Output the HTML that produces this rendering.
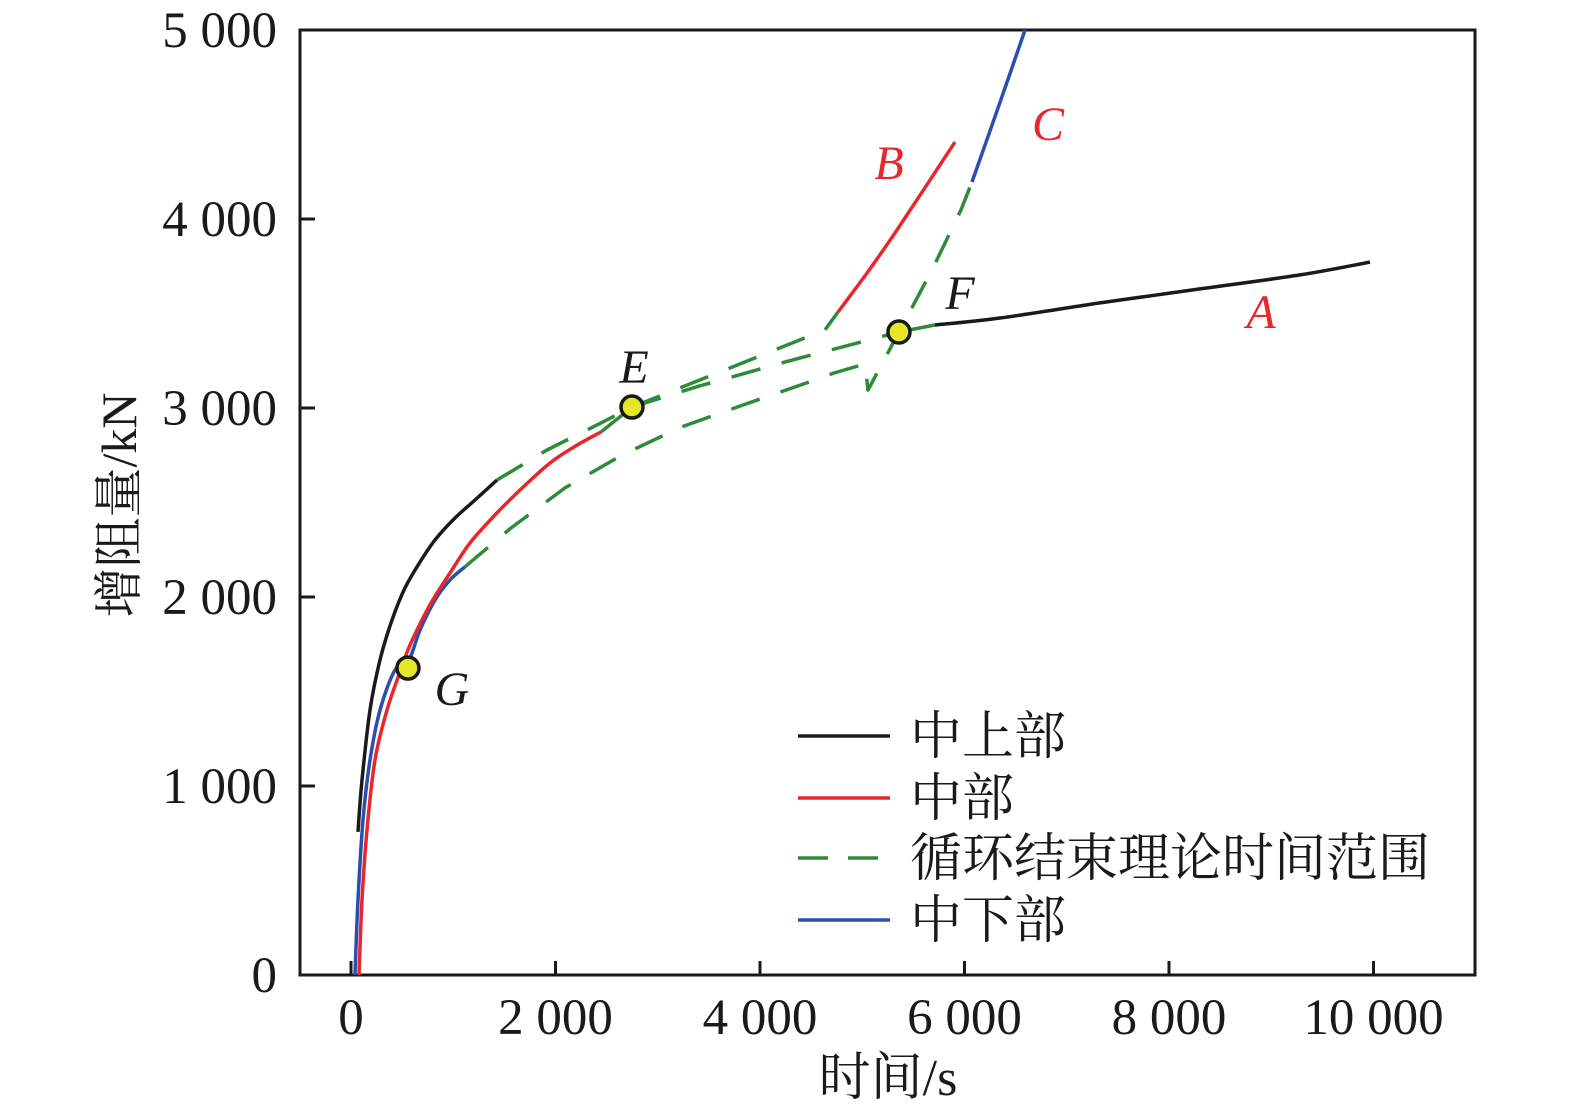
<!DOCTYPE html>
<html><head><meta charset="utf-8"><style>
body{margin:0;background:#fff}
svg{display:block}
text{font-family:"Liberation Serif","Noto Serif CJK SC",serif}
</style></head><body>
<svg id="chart" width="1575" height="1117" viewBox="0 0 1575 1117" xmlns="http://www.w3.org/2000/svg"></svg>
<script>
const xTicks=[0,2000,4000,6000,8000,10000];
const xTickLabels=["0","2 000","4 000","6 000","8 000","10 000"];
const yTicks=[0,1000,2000,3000,4000,5000];
const yTickLabels=["0","1 000","2 000","3 000","4 000","5 000"];
// series: [time, value]
const upperEarly=[[68,757],[108,1032],[186,1402],[284,1667],[401,1878],[528,2048],[675,2185],[822,2302],[1017,2418],[1213,2513],[1428,2619]];
const upperLate=[[5711,3439],[6347,3476],[7325,3556],[8303,3630],[9281,3704],[9966,3772]];
const middleEarly=[[78,0],[108,397],[156,767],[235,1138],[352,1402],[479,1603],[577,1746],[772,1958],[968,2127],[1164,2286],[1408,2434],[1653,2566],[1946,2709],[2200,2800],[2445,2873]];
const middleB=[[4763,3508],[5046,3714],[5340,3942],[5907,4407]];
const lowerEarly=[[39,0],[68,397],[117,820],[186,1138],[284,1402],[430,1614],[557,1654],[675,1825],[822,1984],[968,2090],[1115,2160]];
const lowerC=[[6073,4196],[6328,4587],[6592,5000]];
const dashUpperLeft=[[1428,2619],[1917,2778],[2445,2921],[2748,3005]];
const dashRedToE=[[2445,2873],[2748,3005]];
const dashUpper=[[2748,3005],[4636,3413],[4763,3508]];
const dashMiddle=[[2748,3005],[3404,3116],[4284,3249],[5359,3402]];
const dashLower=[[1115,2160],[1565,2365],[2093,2577],[2650,2751],[3227,2899],[3834,3016],[4450,3132],[4724,3185],[5027,3233],[5056,3095],[5359,3402],[5682,3730],[5966,4048],[6073,4196]];
const greenSolid=[[5359,3402],[5711,3439]];
const pointsEFG=[[2748,3005],[5359,3402],[557,1624]];
const pointNames=["E","F","G"];

const X=t=>351+t*0.10225;
const Y=v=>975-v*0.189;
const NS="http://www.w3.org/2000/svg";
const svg=document.getElementById('chart');
function mk(tag,attrs,parent){const e=document.createElementNS(NS,tag);for(const k in attrs)e.setAttribute(k,attrs[k]);(parent||svg).appendChild(e);return e;}
function pathD(pts){return pts.map((p,i)=>(i?'L':'M')+X(p[0]).toFixed(1)+','+Y(p[1]).toFixed(1)).join(' ');}
function smoothD(pts){
  const P=pts.map(p=>[X(p[0]),Y(p[1])]);
  let d='M'+P[0][0].toFixed(1)+','+P[0][1].toFixed(1);
  for(let i=0;i<P.length-1;i++){
    const p0=P[Math.max(i-1,0)],p1=P[i],p2=P[i+1],p3=P[Math.min(i+2,P.length-1)];
    const c1=[p1[0]+(p2[0]-p0[0])/6,p1[1]+(p2[1]-p0[1])/6];
    const c2=[p2[0]-(p3[0]-p1[0])/6,p2[1]-(p3[1]-p1[1])/6];
    d+=' C'+c1.map(v=>v.toFixed(1)).join(',')+' '+c2.map(v=>v.toFixed(1)).join(',')+' '+p2[0].toFixed(1)+','+p2[1].toFixed(1);
  }
  return d;
}
function line(pts,color,dash,name,smooth){
  const e=mk('path',{d:smooth?smoothD(pts):pathD(pts),fill:'none',stroke:color,'stroke-width':3.5,'stroke-linejoin':'round'});
  if(dash)e.setAttribute('stroke-dasharray',dash);
  
  
}
const G='#2e8b3a',R='#e8262b',B='#2a4fb0',K='#1a1a1a';
const frame=mk('rect',{x:300,y:30,width:1175,height:945,fill:'none',stroke:K,'stroke-width':3});


xTicks.forEach((t,i)=>{
  const tk=mk('line',{x1:X(t),x2:X(t),y1:975,y2:961,stroke:K,'stroke-width':3});
  
  
  const lb=mk('text',{x:X(t),y:1034,'text-anchor':'middle','font-size':51,fill:K});
  lb.textContent=xTickLabels[i];
  
  
});
yTicks.forEach((v,i)=>{
  const tk=mk('line',{x1:300,x2:315,y1:Y(v),y2:Y(v),stroke:K,'stroke-width':3});
  
  
  const lb=mk('text',{x:277,y:Y(v)+17,'text-anchor':'end','font-size':51,fill:K});
  lb.textContent=yTickLabels[i];
  
  
});
const xt=mk('text',{x:888,y:1095,'text-anchor':'middle','font-size':52,fill:K});
xt.textContent='时间/s';


const yt=mk('text',{x:0,y:0,'text-anchor':'middle','font-size':50,fill:K,transform:'translate(136,505) rotate(-90)'});
yt.textContent='增阻量/kN';



line(dashUpperLeft,G,'30 22','dash-upper-left');
line(dashRedToE,G,'30 22','dash-red-to-e');
line(dashUpper,G,'30 22','dash-upper');
line(dashMiddle,G,'30 22','dash-middle');
line(dashLower,G,'30 22','dash-lower');
line(greenSolid,G,null,'green-solid-f');
line(upperEarly,K,null,'upper-early-curve',true);
line(upperLate,K,null,'upper-late-curve-a',true);
line(lowerEarly,B,null,'lower-early-curve',true);
line(middleEarly,R,null,'middle-early-curve',true);
line(middleB,R,null,'middle-curve-b',true);
line(lowerC,B,null,'lower-curve-c',true);

pointsEFG.forEach((p,i)=>{
  const c=mk('circle',{cx:X(p[0]),cy:Y(p[1]),r:11,fill:'#e6e62a',stroke:K,'stroke-width':3.5});
  
  
});
function lab(txt,x,y,col,name){
  const t=mk('text',{x:x,y:y,'text-anchor':'middle','font-size':48,'font-style':'italic',fill:col});
  t.textContent=txt;
  
  
}
lab('A',1261,328,R,'label-a');
lab('B',889,179,R,'label-b');
lab('C',1048,140,R,'label-c');
lab('E',634,383,K,'label-e');
lab('F',960,309,K,'label-f');
lab('G',452,705,K,'label-g');

const legendNames=['中上部','中部','循环结束理论时间范围','中下部'];
const legendColors=[K,R,G,B];
const legendY=[736,798,858,920];
legendNames.forEach((n,i)=>{
  const g=mk('g',{});
  
  
  const l=mk('line',{x1:798,x2:890,y1:legendY[i],y2:legendY[i],stroke:legendColors[i],'stroke-width':3.5},g);
  if(i===2)l.setAttribute('stroke-dasharray','30 20');
  const t=mk('text',{x:910,y:legendY[i]+18,'font-size':52,fill:K},g);
  t.textContent=n;
});
</script>
</body></html>
